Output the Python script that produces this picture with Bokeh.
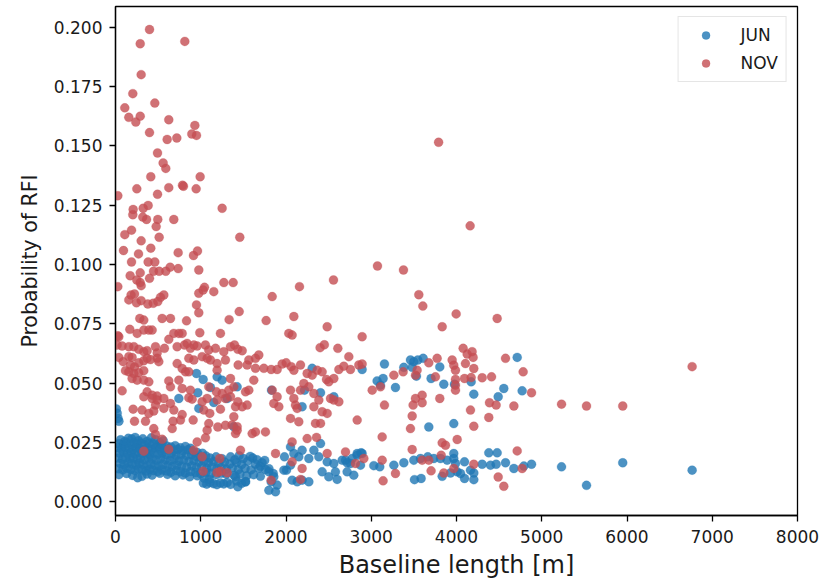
from bokeh.plotting import figure
from bokeh.models import ColumnDataSource, FixedTicker, PrintfTickFormatter, Range1d, Legend, LegendItem
from bokeh.embed import file_html
from bokeh.resources import INLINE

# ---------------- data (baseline length [m], probability of RFI) ----------------
nov_upper = [
    (399, .199), (290, .193), (813, .194), (301, .180), (203, .172), (109, .166), (461, .168),
    (156, .162), (238, .160), (290, .1625), (625, .161), (399, .1556), (606, .1527), (719, .1533),
    (931, .1586), (895, .155), (950, .1544), (493, .147), (559, .1428), (590, .1405), (414, .137),
    (993, .137), (786, .1334), (797, .133), (625, .1324), (946, .1319), (250, .1319), (27, .129),
    (493, .1296), (1251, .1237), (383, .1249), (325, .1237), (207, .1232), (203, .121), (320, .120),
    (364, .119), (496, .119), (684, .119), (477, .116), (512, .1115), (1458, .1115), (109, .1126),
    (188, .1145), (301, .110), (94, .1059), (414, .1069), (270, .1045), (735, .105), (915, .1038),
    (962, .1057), (188, .1011), (383, .1011), (461, .1011), (977, .0977), (735, .0983), (641, .0989),
    (590, .0972), (512, .0972), (446, .0972), (172, .0953), (290, .0965), (250, .0935), (399, .0942),
    (290, .0924), (301, .0911), (27, .0907), (3073, .0994), (3378, .0977), (2557, .0935),
    (2158, .0907), (1271, .0924), (1380, .0924), (1044, .0904), (3790, .1515), (4160, .1163),
]
nov_left = [
    (183, .0872), (223, .0876), (156, .0851), (246, .0839), (301, .0848), (379, .0834), (442, .0837),
    (496, .0844), (528, .0862), (567, .0872), (977, .0879), (1028, .0893), (1153, .0886), (950, .0830),
    (977, .0797), (285, .0773), (332, .0766), (547, .0773), (645, .0773), (833, .0763), (168, .0727),
    (254, .0710), (332, .0724), (391, .0724), (430, .0724), (684, .0710), (743, .0710), (782, .0710),
    (989, .0713), (1231, .0710), (625, .0685), (840, .0668), (919, .0661), (19, .0661), (78, .0657),
    (156, .0654), (215, .0654), (273, .0643), (332, .0633), (371, .0637), (469, .0654), (489, .0628),
    (489, .0605), (508, .0591), (574, .0647), (723, .0654), (809, .0661), (879, .0647), (958, .0657),
    (1055, .0661), (1094, .0640), (1173, .0647), (1270, .0633), (39, .0609), (90, .0591), (156, .0612),
    (195, .0609), (176, .0576), (223, .0569), (273, .0586), (332, .0595), (371, .0605), (410, .0600),
    (723, .0583), (860, .0605), (919, .0598), (1016, .0612), (1075, .0605), (1114, .0598), (1192, .0583),
    (1290, .0598), (117, .0553), (156, .0548), (215, .0541), (273, .0544), (332, .0553), (195, .0520),
    (254, .0513), (332, .0513), (391, .0506), (782, .0562), (821, .0548), (860, .0548), (625, .0510),
    (743, .0513), (1192, .0555), (78, .0468), (371, .0464), (430, .0450), (489, .0446), (645, .0485),
    (782, .0478), (879, .0471), (1094, .0485), (1184, .0464), (1251, .0457), (1329, .0471), (27, .0700),
    (39, .0696),
    (332, .0443), (430, .0436), (489, .0429), (567, .0436), (645, .0415), (860, .0439), (899, .0433),
    (1016, .0422), (1075, .0436), (1192, .0429), (1290, .0436), (469, .0408), (567, .0394), (207, .0391),
    (312, .0387), (391, .0373), (449, .0383), (684, .0387), (782, .0368), (1036, .0387), (1106, .0373),
    (1231, .0391), (223, .0340), (352, .0340), (676, .0340), (762, .0345), (911, .0345), (1094, .0330),
    (1200, .0316), (1290, .0323), (449, .0309), (665, .0309), (469, .0284), (547, .0264), (1075, .0302),
    (1055, .0270), (958, .0253), (332, .0214), (625, .0222), (1016, .0190), (1223, .0183), (1028, .0129),
    (1192, .0124), (1231, .0129),
]
nov_mid = [
    (1451, .0802), (1333, .0768), (1838, .0865), (2092, .0781), (1767, .0764), (2033, .0710),
    (2072, .0703), (2483, .0738), (2893, .0696), (2400, .0650), (2450, .0662), (2608, .0647),
    (2737, .0612), (1681, .0619), (1642, .0605), (1564, .0598), (1544, .0577), (1439, .0577),
    (1642, .0563), (1740, .0563), (1826, .0558), (1896, .0558), (1955, .0581), (2002, .0586),
    (2061, .0570), (2092, .0555), (2170, .0577), (2248, .0541), (2307, .0534), (2366, .0555),
    (2424, .0548), (2475, .0516), (2502, .0506), (2561, .0520), (2620, .0558), (2678, .0572),
    (2756, .0558), (2854, .0577), (2893, .0581), (3011, .0471), (3108, .0485), (3155, .0408),
    (3265, .0534), (3374, .0548), (1838, .0471), (1896, .0443), (1857, .0415), (1916, .0401),
    (2053, .0471), (2092, .0436), (2111, .0408), (2131, .0394), (2170, .0471), (2209, .0499),
    (2268, .0485), (2327, .0457), (2385, .0429), (2327, .0401), (2424, .0380), (2483, .0373),
    (2522, .0436), (2561, .0429), (2620, .0422), (2053, .0352), (2150, .0338), (2346, .0331),
    (2405, .0331), (2835, .0345), (2248, .0267), (2358, .0272), (2072, .0253), (2483, .0204),
    (2698, .0211), (2815, .0162), (2913, .0183), (2072, .0169), (2189, .0141), (1877, .0204),
    (1826, .0092), (2170, .0095), (3128, .0274), (3128, .0176), (3139, .0089), (3284, .0120),
    (919, .0218), (1310, .0123), (1408, .0288), (1427, .0302), (1466, .0218), (1642, .0295),
    (1603, .0288), (1759, .0295), (1349, .0520), (1388, .0485), (1435, .0422), (1486, .0401),
    (1349, .0443), (1408, .0401), (1544, .0408), (1388, .0359), (1525, .0464), (1564, .0471),
    (1622, .0513), (1368, .0324), (1427, .0317), (1349, .0654), (1396, .0661), (1435, .0643),
    (1486, .0637),
]
nov_right = [
    (3558, .0873), (3605, .0825), (3996, .0792), (3832, .0738), (3538, .0555), (3675, .0586),
    (3773, .0605), (3949, .0598), (3968, .0576), (3988, .0555), (4078, .0647), (4125, .0623),
    (4183, .0633), (4195, .0609), (4105, .0583), (4203, .0562), (4094, .0520), (4172, .0524),
    (3988, .0516), (3988, .0492), (3988, .0471), (3519, .0534), (3753, .0527), (3519, .0436),
    (3597, .0450), (3597, .0418), (3491, .0408), (3804, .0436), (3480, .0362), (3460, .0309),
    (3832, .0249), (3871, .0239), (4008, .0263), (4203, .0319), (4164, .0387), (3480, .0221),
    (3597, .0176), (3675, .0176), (3820, .0197), (3702, .0131), (3851, .0122), (3968, .0141),
    (4203, .0159), (4477, .0773), (4575, .0605), (4782, .0548), (4301, .0523), (4411, .0527),
    (4880, .0460), (4387, .0418), (4465, .0408), (4673, .0404), (4379, .0356), (5232, .0412),
    (5525, .0404), (5950, .0404), (4712, .0215), (4770, .0141), (4489, .0105), (4555, .0066),
    (6764, .0570),
]

jun_cluster = [
    (60, .0262), (110, .0255), (150, .0268), (190, .0265), (230, .0272), (270, .0258), (320, .0266),
    (370, .0255), (420, .0270), (470, .0262), (520, .0250), (560, .0258),
    (40, .0245), (90, .0240), (130, .0248), (175, .0242), (215, .0250), (250, .0244), (300, .0247),
    (345, .0240), (395, .0246), (445, .0243), (495, .0240), (545, .0238), (600, .0236), (650, .0232),
    (700, .0237), (760, .0228), (820, .0234), (880, .0226),
    (25, .0228), (70, .0222), (115, .0230), (160, .0225), (200, .0220), (240, .0229), (285, .0224),
    (330, .0219), (380, .0226), (425, .0221), (470, .0228), (520, .0223), (575, .0219), (625, .0224),
    (680, .0216), (730, .0222), (790, .0215), (850, .0220), (910, .0213), (960, .0208), (1020, .0205),
    (50, .0205), (95, .0210), (140, .0203), (185, .0208), (225, .0202), (265, .0211), (310, .0204),
    (355, .0209), (400, .0200), (450, .0207), (500, .0201), (550, .0206), (600, .0199), (655, .0204),
    (710, .0196), (770, .0201), (830, .0195), (890, .0199), (940, .0192), (1000, .0188), (1060, .0194),
    (1110, .0185), (1180, .0190), (1250, .0182),
    (30, .0185), (80, .0180), (125, .0188), (170, .0182), (210, .0186), (255, .0179), (295, .0184),
    (340, .0178), (385, .0187), (430, .0181), (480, .0176), (530, .0183), (585, .0178), (640, .0174),
    (690, .0180), (745, .0172), (800, .0177), (860, .0170), (920, .0175), (980, .0168), (1040, .0172),
    (1090, .0165), (1150, .0170), (1210, .0163), (1280, .0168), (1340, .0160), (1420, .0166),
    (1480, .0158), (1550, .0172), (1610, .0185), (1660, .0178), (1720, .0165),
    (55, .0162), (100, .0158), (150, .0165), (195, .0160), (240, .0155), (280, .0163), (325, .0157),
    (370, .0152), (415, .0160), (460, .0155), (510, .0150), (560, .0158), (615, .0153), (665, .0148),
    (720, .0155), (775, .0150), (835, .0146), (895, .0152), (950, .0145), (1010, .0150), (1070, .0142),
    (1130, .0147), (1190, .0140), (1240, .0145), (1300, .0138), (1370, .0143), (1440, .0136),
    (1520, .0141), (1590, .0135), (1680, .0142), (1760, .0137),
    (35, .0140), (85, .0135), (135, .0142), (180, .0137), (230, .0132), (270, .0139), (315, .0134),
    (360, .0130), (405, .0137), (445, .0132), (495, .0128), (545, .0135), (600, .0130), (650, .0125),
    (710, .0132), (760, .0127), (820, .0122), (880, .0128), (940, .0124), (1000, .0119), (1060, .0125),
    (1120, .0120), (1180, .0115), (1240, .0121), (1300, .0117), (1390, .0112), (1460, .0118),
    (1540, .0110), (1620, .0115), (1700, .0108),
    (40, .0115), (130, .0120), (200, .0112), (260, .0102), (310, .0108), (370, .0118), (430, .0113),
    (520, .0121), (610, .0116), (700, .0110), (790, .0114), (870, .0106), (960, .0110), (1040, .0100),
    (1100, .0095),
    (1030, .0080), (1070, .0075), (1110, .0082), (1150, .0077), (1190, .0073), (1230, .0080),
    (1270, .0076), (1310, .0082), (1350, .0074), (1420, .0088), (1480, .0079), (1525, .0085),
    (1350, .0190), (1400, .0178), (1450, .0195), (1500, .0183), (1580, .0192), (1640, .0160),
    (1700, .0150), (1750, .0175), (1800, .0140), (1850, .0120),
]
jun_scatter = [
    (10, .0392), (20, .0374), (30, .0352), (40, .0340),
    (950, .0541), (1028, .0516), (1192, .0527), (1251, .0513), (965, .0460), (1114, .0482),
    (743, .0436), (1310, .0436), (977, .0394), (1153, .0419), (1388, .0317), (1427, .0485),
    (1830, .0471), (2189, .0401), (2217, .0471), (2307, .0563), (2405, .0460), (2561, .0443),
    (2893, .0558),
    (3155, .0581), (3069, .0510), (3139, .0520), (3108, .0492), (3284, .0482), (3382, .0567),
    (3460, .0598), (3499, .0591), (3546, .0598), (3609, .0605), (3480, .0567), (3530, .0530),
    (3702, .0520), (3804, .0569), (3851, .0496), (3976, .0496), (4172, .0506), (4203, .0454),
    (3675, .0316), (3968, .0330),
    (4712, .0609), (4555, .0478), (4489, .0443), (4770, .0468),
]
jun_band = [
    (1525, .0085), (1408, .0106), (1435, .0064), (1799, .0127), (1857, .0106), (1799, .0049),
    (1896, .0071), (1877, .0043), (1826, .0085), (1982, .0190), (2006, .0134), (2053, .0232),
    (2092, .0204), (2150, .0190), (2189, .0218), (2268, .0183), (2072, .0092), (2131, .0085),
    (2189, .0092), (2268, .0085), (2327, .0218), (2385, .0190), (2424, .0127), (2483, .0169),
    (2502, .0106), (2561, .0162), (2580, .0127), (2600, .0095), (2659, .0176), (2717, .0165),
    (2776, .0183), (2835, .0204), (2893, .0204), (2717, .0127), (2795, .0113), (2405, .0246),
    (1975, .0134), (2053, .0155),
    (2698, .0176), (2756, .0162), (2835, .0197), (2881, .0207), (2874, .0155), (3030, .0153),
    (3100, .0148), (3265, .0155), (3382, .0165), (3499, .0176), (3507, .0094), (3585, .0099),
    (3577, .0183), (3663, .0190), (3734, .0183), (3812, .0183), (3832, .0108), (3890, .0176),
    (3968, .0204), (3968, .0183), (3988, .0162), (4008, .0127), (3929, .0122), (4094, .0169),
    (4094, .0099), (4203, .0122), (4203, .0094), (4164, .0134), (4047, .0120),
    (4379, .0207), (4477, .0207), (4301, .0159), (4399, .0155), (4465, .0159), (4575, .0165),
    (4673, .0141), (4790, .0151), (4880, .0159), (5232, .0148), (5525, .0070), (5950, .0165),
    (6764, .0134),
]

x_ticks = [0, 1000, 2000, 3000, 4000, 5000, 6000, 7000, 8000]
y_ticks = [0.0, 0.025, 0.05, 0.075, 0.1, 0.125, 0.15, 0.175, 0.2]

jun = jun_cluster + jun_scatter + jun_band
nov = nov_upper + nov_left + nov_mid + nov_right

src_jun = ColumnDataSource(dict(x=[p[0] for p in jun], y=[p[1] for p in jun]))
src_nov = ColumnDataSource(dict(x=[p[0] for p in nov], y=[p[1] for p in nov]))

FONT = "DejaVu Sans"
TXT = "#1a1a1a"

p = figure(width=820, height=581, output_backend="svg", toolbar_location=None,
           x_range=Range1d(0, 8000), y_range=Range1d(-0.0057, 0.2087),
           min_border_left=115, min_border_right=23, min_border_top=6, min_border_bottom=66)
p.background_fill_color = "white"
p.border_fill_color = "white"
p.outline_line_color = "black"
p.outline_line_width = 1.3
p.xgrid.visible = False
p.ygrid.visible = False

r_jun = p.scatter("x", "y", source=src_jun, size=9, fill_color="#1f77b4", fill_alpha=0.8,
                  line_color="#1f77b4", line_alpha=0.25, line_width=1)
r_nov = p.scatter("x", "y", source=src_nov, size=9, fill_color="#c44e52", fill_alpha=0.8,
                  line_color="#c44e52", line_alpha=0.25, line_width=1)

for ax in (p.xaxis[0], p.yaxis[0]):
    ax.axis_line_color = "black"
    ax.axis_line_width = 1.3
    ax.major_tick_line_color = "black"
    ax.major_tick_line_width = 1.3
    ax.major_tick_out = 6
    ax.major_tick_in = 0
    ax.minor_tick_line_color = None
    ax.major_label_text_font = FONT
    ax.major_label_text_font_size = "17px"
    ax.major_label_text_color = TXT
    ax.axis_label_text_font = FONT
    ax.axis_label_text_font_style = "normal"
    ax.axis_label_text_color = TXT

p.xaxis.axis_label_text_font_size = "24px"
p.yaxis.axis_label_text_font_size = "20.5px"
p.xaxis.ticker = FixedTicker(ticks=x_ticks)
p.yaxis.ticker = FixedTicker(ticks=y_ticks)
p.yaxis.formatter = PrintfTickFormatter(format="%.3f")
p.xaxis.axis_label = "Baseline length [m]"
p.yaxis.axis_label = "Probability of RFI"
p.xaxis.major_label_standoff = 8
p.xaxis.axis_label_standoff = 5
p.yaxis.major_label_standoff = 7
p.yaxis.axis_label_standoff = 9

legend = Legend(items=[LegendItem(label="JUN", renderers=[r_jun]),
                       LegendItem(label="NOV", renderers=[r_nov])],
                location="top_right")
legend.label_text_font = FONT
legend.label_text_font_size = "17px"
legend.label_text_color = TXT
legend.border_line_color = "#cccccc"
legend.border_line_width = 1
legend.background_fill_color = "white"
legend.background_fill_alpha = 0.8
legend.margin = 10
legend.padding = 8
legend.spacing = 8
legend.label_height = 20
legend.glyph_height = 20
legend.glyph_width = 38
legend.label_standoff = 16
p.add_layout(legend)

open("out.html", "w").write(file_html(p, INLINE))
